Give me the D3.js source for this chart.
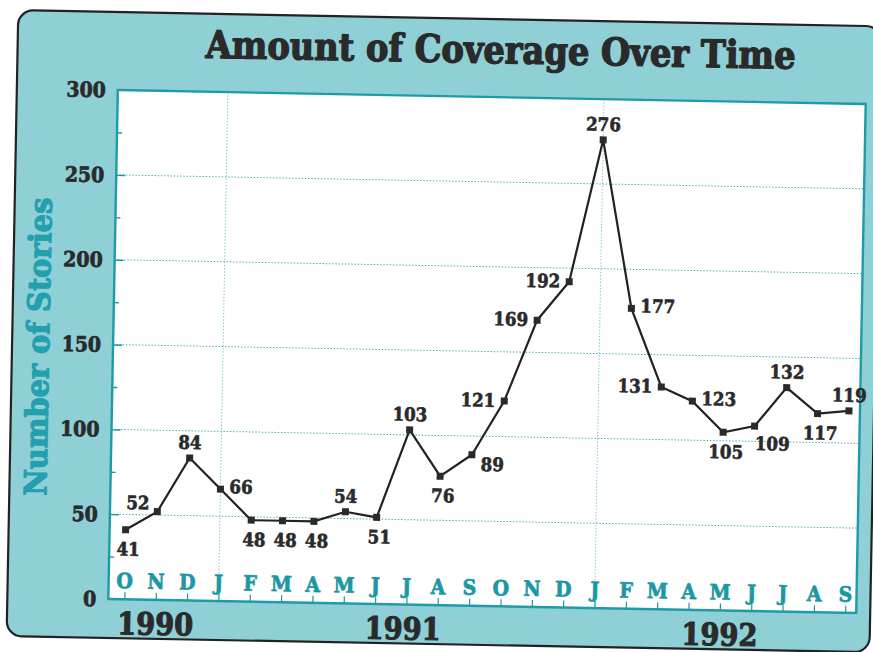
<!DOCTYPE html>
<html>
<head>
<meta charset="utf-8">
<script src="https://cdn.jsdelivr.net/npm/d3@7"></script>
<style>
  html, body { margin: 0; padding: 0; background: #ffffff; }
  svg { display: block; }
</style>
</head>
<body>
<div id="chart"></div>
<script>
// Monthly story counts, October 1990 through September 1992
const months = ["O","N","D","J","F","M","A","M","J","J","A","S",
                "O","N","D","J","F","M","A","M","J","J","A","S"];
const stories = [41, 52, 84, 66, 48, 48, 48, 54, 51, 103, 76, 89,
                 121, 169, 192, 276, 177, 131, 123, 105, 109, 132, 117, 119];
// where each value label sits relative to its point
const labelSide = ["below","upleft","above","right","below","below","below","above",
                   "below","above","below","rightbelow","left","left","left","above",
                   "right","left","right","below","belowright","above","below","above"];
const yTicks = [0, 50, 100, 150, 200, 250, 300];
const years = ["1990", "1991", "1992"];
const yearAt = [1, 8.9, 19];        // month index each year label is centred on
const januaryIdx = [3, 15];         // vertical guide lines

const W = 873, H = 652;
const ink = "#2a2a2a";
const teal = "#1c97a4";
const panelFill = "#8fcfd6";
const serif = "'DejaVu Serif Condensed', 'DejaVu Serif', serif";

const svg = d3.select("#chart").append("svg")
  .attr("width", W).attr("height", H);

// the whole card sits slightly turned
const card = svg.append("g").attr("transform", "rotate(1.07, 487, 352)");

card.append("rect")
  .attr("x", 12).attr("y", 19).attr("width", 863).attr("height", 626)
  .attr("rx", 15).attr("ry", 15)
  .attr("fill", panelFill).attr("stroke", "#222").attr("stroke-width", 2.2);

const plot = { left: 113, top: 97, right: 861, bottom: 606 };

card.append("rect")
  .attr("x", plot.left).attr("y", plot.top)
  .attr("width", plot.right - plot.left).attr("height", plot.bottom - plot.top)
  .attr("fill", "#ffffff");

const x = d3.scaleLinear().domain([0, 23]).range([129, 850]);
const y = d3.scaleLinear().domain([0, 300]).range([plot.bottom, plot.top]);

// heavy lettering: bold face thickened with an outline of the same colour
function heavy(sel, color, w) {
  return sel.attr("font-family", serif).attr("font-weight", "bold")
    .attr("fill", color).attr("stroke", color).attr("stroke-width", w)
    .attr("stroke-linejoin", "round");
}

// dotted guides
card.append("g").selectAll("line")
  .data(yTicks.filter(v => v > 0 && v < 300))
  .join("line")
  .attr("x1", plot.left).attr("x2", plot.right)
  .attr("y1", d => y(d)).attr("y2", d => y(d))
  .attr("stroke", "#3aa8b4").attr("stroke-width", 1)
  .attr("stroke-dasharray", "1.4,1.8");

card.append("g").selectAll("line")
  .data(januaryIdx)
  .join("line")
  .attr("x1", d => x(d)).attr("x2", d => x(d))
  .attr("y1", plot.top).attr("y2", plot.bottom)
  .attr("stroke", "#7cc6ce").attr("stroke-width", 1)
  .attr("stroke-dasharray", "1.4,1.8");

// left axis ticks (major and minor) drawn inward
const yAxis = d3.axisRight(y)
  .tickValues(d3.range(25, 300, 25))
  .tickSize(5)
  .tickFormat("");
const yAx = card.append("g").attr("transform", `translate(${plot.left},0)`).call(yAxis);
yAx.select(".domain").remove();
yAx.selectAll(".tick line")
  .attr("stroke", teal).attr("stroke-width", 1.4)
  .attr("x2", d => d % 50 === 0 ? 9 : 5);

// bottom axis ticks drawn inward with month letters
const xAxis = d3.axisTop(x)
  .tickValues(d3.range(months.length))
  .tickSize(7)
  .tickFormat("");
const xAx = card.append("g").attr("transform", `translate(0,${plot.bottom})`).call(xAxis);
xAx.select(".domain").remove();
xAx.selectAll(".tick line").attr("stroke", teal).attr("stroke-width", 1.2);

card.append("g").selectAll("text")
  .data(months)
  .join("text")
  .attr("x", (d, i) => x(i)).attr("y", plot.bottom - 11)
  .attr("text-anchor", "middle")
  .attr("font-size", 21)
  .call(heavy, teal, 0.7)
  .text(d => d);

// plot frame
card.append("rect")
  .attr("x", plot.left).attr("y", plot.top)
  .attr("width", plot.right - plot.left).attr("height", plot.bottom - plot.top)
  .attr("fill", "none").attr("stroke", "#1f9ba8").attr("stroke-width", 2.4);

// y tick labels
card.append("g").selectAll("text")
  .data(yTicks)
  .join("text")
  .attr("x", plot.left - 12).attr("y", d => y(d) + 7.5)
  .attr("text-anchor", "end")
  .attr("font-size", 21)
  .call(heavy, ink, 0.7)
  .text(d => d);

// year labels
card.append("g").selectAll("text")
  .data(years)
  .join("text")
  .attr("x", (d, i) => x(yearAt[i])).attr("y", 641)
  .attr("text-anchor", "middle")
  .attr("font-size", 31)
  .call(heavy, ink, 1)
  .attr("textLength", 76).attr("lengthAdjust", "spacingAndGlyphs")
  .text(d => d);

// title
card.append("text")
  .attr("x", 495).attr("y", 63)
  .attr("text-anchor", "middle")
  .attr("font-size", 38)
  .call(heavy, ink, 1.3)
  .attr("textLength", 590).attr("lengthAdjust", "spacingAndGlyphs")
  .text("Amount of Coverage Over Time");

// y axis title
card.append("text")
  .attr("transform", "translate(49,355) rotate(-90)")
  .attr("text-anchor", "middle")
  .attr("font-size", 31)
  .call(heavy, "#23a0ad", 1.1)
  .attr("textLength", 298).attr("lengthAdjust", "spacingAndGlyphs")
  .text("Number of Stories");

// the series
const line = d3.line().x((d, i) => x(i)).y(d => y(d));
card.append("path")
  .datum(stories)
  .attr("d", line)
  .attr("fill", "none").attr("stroke", "#222").attr("stroke-width", 2.2)
  .attr("stroke-linejoin", "miter");

const sq = 7;
card.append("g").selectAll("rect")
  .data(stories)
  .join("rect")
  .attr("x", (d, i) => x(i) - sq / 2).attr("y", d => y(d) - sq / 2)
  .attr("width", sq).attr("height", sq)
  .attr("fill", "#2a2a2a");

// value labels
const place = {
  above:      { dx: 0,   dy: -9, anchor: "middle" },
  below:      { dx: 3,   dy: 26, anchor: "middle" },
  left:       { dx: -9,  dy: 6,  anchor: "end" },
  right:      { dx: 9,   dy: 4,  anchor: "start" },
  upleft:     { dx: -8,  dy: -2, anchor: "end" },
  rightbelow: { dx: 9,   dy: 16, anchor: "start" },
  belowright: { dx: 18,  dy: 24, anchor: "middle" }
};
card.append("g").selectAll("text")
  .data(stories)
  .join("text")
  .attr("x", (d, i) => x(i) + place[labelSide[i]].dx)
  .attr("y", (d, i) => y(d) + place[labelSide[i]].dy)
  .attr("text-anchor", (d, i) => place[labelSide[i]].anchor)
  .attr("font-size", 18.5)
  .call(heavy, ink, 0.6)
  .text(d => d);
</script>
</body>
</html>
